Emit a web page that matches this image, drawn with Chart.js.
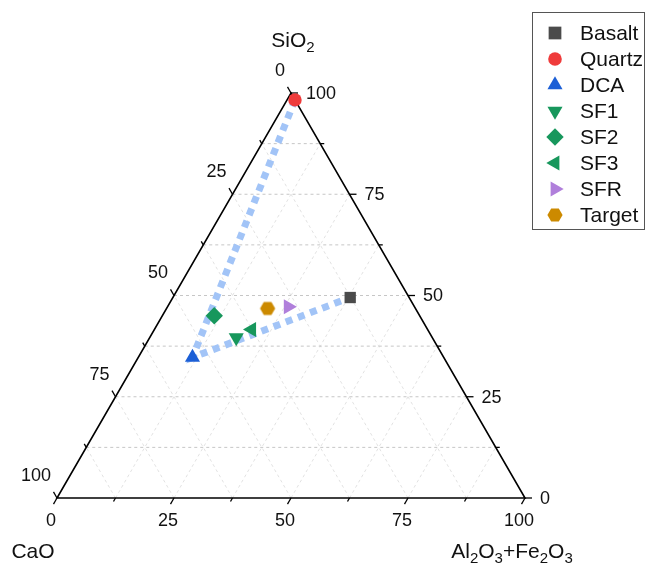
<!DOCTYPE html>
<html>
<head>
<meta charset="utf-8">
<script src="https://cdn.jsdelivr.net/npm/chart.js@4.4.0/dist/chart.umd.min.js"></script>
<style>
  html, body { margin: 0; padding: 0; background: #fff; }
  #wrap { width: 648px; height: 566px; }
</style>
</head>
<body>
<div id="wrap"><canvas id="ternary" width="648" height="566"></canvas></div>
<script>
// ═══════════ DATOS ═══════════
const muestras   = ['Basalt', 'Quartz', 'DCA', 'SF1', 'SF2', 'SF3', 'SFR', 'Target'];
const sio2       = [49.5, 98.3, 34.7, 39.6, 45.0, 41.6, 47.2, 46.8];
const al2o3fe2o3 = [37.9,  1.7, 11.6, 18.5, 11.1, 20.8, 25.8, 21.6];
const cao        = [12.6,  0.0, 53.7, 41.9, 43.9, 37.6, 27.0, 31.6];
const rutaMezcla = ['Quartz', 'DCA', 'Basalt'];
const ticksEje   = [0, 25, 50, 75, 100];
const menoresEje = [12.5, 37.5, 62.5, 87.5];
const gridPasos  = [12.5, 25, 37.5, 50, 62.5, 75, 87.5];

// ═══════════ ESTILOS ═══════════
const FONT = '"Liberation Sans", Arial, sans-serif';
const H = Math.sqrt(3) / 2;

function hexagono(r, color) {
  const c = document.createElement('canvas');
  c.width = c.height = Math.ceil(2 * r + 2);
  const g = c.getContext('2d');
  g.beginPath();
  for (let i = 0; i < 6; i++) {
    const a = i * Math.PI / 3;
    const px = c.width / 2 + r * Math.cos(a), py = c.height / 2 + r * Math.sin(a);
    i ? g.lineTo(px, py) : g.moveTo(px, py);
  }
  g.closePath();
  g.fillStyle = color;
  g.fill();
  return c;
}

const estilos = {
  Basalt: { color: '#4b4b4b', style: 'rect',     rot: 0,   r: 8,   rl: 9 },
  Quartz: { color: '#ef3b3b', style: 'circle',   rot: 0,   r: 6.7, rl: 6.8 },
  DCA:    { color: '#1c5fd6', style: 'triangle', rot: 0,   r: 8.7, rl: 8.7 },
  SF1:    { color: '#17975c', style: 'triangle', rot: 180, r: 8.7, rl: 8.7 },
  SF2:    { color: '#17975c', style: 'rectRot',  rot: 0,   r: 8.7, rl: 8.7 },
  SF3:    { color: '#17975c', style: 'triangle', rot: 270, r: 8.7, rl: 8.7 },
  SFR:    { color: '#b07fdb', style: 'triangle', rot: 90,  r: 8.7, rl: 8.7 },
  Target: { color: '#cc8a00', style: hexagono(7.6, '#cc8a00'), rot: 0, r: 7.6, rl: 7.6 }
};

// ternario -> cartesiano (0..100 en x, 0..86.6 en y)
function toXY(si, al, ca) {
  const t = si + al + ca;
  return { x: (al + si / 2) / t * 100, y: si / t * 100 * H };
}
const punto = nombre => {
  const i = muestras.indexOf(nombre);
  return toXY(sio2[i], al2o3fe2o3[i], cao[i]);
};

// ═══════════ DATASETS ═══════════
const datasets = muestras.map(n => ({
  label: n,
  data: [punto(n)],
  pointStyle: estilos[n].style,
  pointRotation: estilos[n].rot,
  pointRadius: estilos[n].r,
  backgroundColor: estilos[n].color,
  borderColor: estilos[n].color,
  borderWidth: 0,
  clip: false,
  order: 0
}));

datasets.push({
  type: 'line',
  label: 'ruta',
  data: rutaMezcla.map(punto),
  borderColor: '#a2c4f7',
  borderWidth: 7,
  borderDash: [7, 6],
  borderCapStyle: 'butt',
  pointRadius: 0,
  fill: false,
  tension: 0,
  clip: false,
  order: 10
});

// ═══════════ PLUGIN MARCO TERNARIO ═══════════
function textoQuimico(ctx, partes, cx, base, size) {
  const sub = Math.round(size * 0.7);
  let w = 0;
  partes.forEach(([t, s]) => {
    ctx.font = `${s ? sub : size}px ${FONT}`;
    w += ctx.measureText(t).width;
  });
  let x = cx - w / 2;
  ctx.textAlign = 'left';
  ctx.textBaseline = 'alphabetic';
  partes.forEach(([t, s]) => {
    ctx.font = `${s ? sub : size}px ${FONT}`;
    ctx.fillText(t, x, s ? base + 5 : base);
    x += ctx.measureText(t).width;
  });
}

const marcoTernario = {
  id: 'marcoTernario',
  beforeDatasetsDraw(chart) {
    const { ctx } = chart;
    const xs = chart.scales.x, ys = chart.scales.y;
    const P = (si, al, ca) => {
      const p = toXY(si, al, ca);
      return [xs.getPixelForValue(p.x), ys.getPixelForValue(p.y)];
    };
    const linea = (a, b) => { ctx.beginPath(); ctx.moveTo(a[0], a[1]); ctx.lineTo(b[0], b[1]); ctx.stroke(); };

    ctx.save();
    // grid
    ctx.lineWidth = 1;
    ctx.setLineDash([3, 3]);
    gridPasos.forEach(v => {
      ctx.strokeStyle = '#e2e2e2';
      linea(P(0, v, 100 - v), P(100 - v, v, 0));
      linea(P(0, 100 - v, v), P(100 - v, 0, v));
      ctx.strokeStyle = '#c6c6c6';
      linea(P(v, 0, 100 - v), P(v, 100 - v, 0));
    });
    ctx.setLineDash([]);

    // marco
    ctx.strokeStyle = '#000';
    ctx.lineWidth = 1.6;
    ctx.beginPath();
    const a = P(0, 0, 100), b = P(0, 100, 0), c = P(100, 0, 0);
    ctx.moveTo(a[0], a[1]); ctx.lineTo(b[0], b[1]); ctx.lineTo(c[0], c[1]); ctx.closePath();
    ctx.stroke();

    // ticks
    ctx.lineWidth = 1.3;
    const tick = (p, dx, dy, len) => linea(p, [p[0] + dx * len, p[1] + dy * len]);
    const todos = ticksEje.map(v => [v, 7]).concat(menoresEje.map(v => [v, 4]));
    todos.forEach(([v, len]) => {
      tick(P(0, v, 100 - v), -0.5, H, len);       // inferior
      tick(P(v, 100 - v, 0), 1, 0, len);          // derecho
      tick(P(100 - v, 0, v), -0.5, -H, len);      // izquierdo
    });

    // etiquetas
    ctx.fillStyle = '#111';
    ctx.font = `18px ${FONT}`;
    ticksEje.forEach(v => {
      let p = P(0, v, 100 - v);
      ctx.textAlign = 'center'; ctx.textBaseline = 'middle';
      ctx.fillText(String(v), p[0] - 6, p[1] + 23);
      p = P(v, 100 - v, 0);
      ctx.textAlign = 'left';
      ctx.fillText(String(v), p[0] + 15, p[1] + 1);
      p = P(100 - v, 0, v);
      ctx.textAlign = 'right';
      ctx.fillText(String(v), p[0] - 6, p[1] - 22);
    });

    // títulos de ejes
    ctx.fillStyle = '#111';
    textoQuimico(ctx, [['SiO', 0], ['2', 1]], c[0] + 2, 47, 21);
    textoQuimico(ctx, [['CaO', 0]], 33, 558, 21);
    textoQuimico(ctx, [['Al', 0], ['2', 1], ['O', 0], ['3', 1], ['+Fe', 0], ['2', 1], ['O', 0], ['3', 1]], 512, 558, 21);
    ctx.restore();
  },
  afterDraw(chart) {
    const { ctx } = chart;
    ctx.save();
    ctx.strokeStyle = '#555';
    ctx.lineWidth = 1;
    ctx.strokeRect(532.5, 12.5, 112, 217);
    ctx.font = `21px ${FONT}`;
    ctx.textAlign = 'left';
    ctx.textBaseline = 'middle';
    muestras.forEach((n, i) => {
      const y = 33 + i * 26;
      const e = estilos[n];
      ctx.fillStyle = e.color;
      ctx.strokeStyle = e.color;
      ctx.lineWidth = 0;
      Chart.helpers.drawPoint(ctx, { pointStyle: e.style, rotation: e.rot, radius: e.rl, borderWidth: 0 }, 555, y);
      ctx.fillStyle = '#111';
      ctx.fillText(n, 580, y + 1);
    });
    ctx.restore();
  }
};

// ═══════════ CHART ═══════════
new Chart(document.getElementById('ternary'), {
  type: 'scatter',
  data: { datasets },
  options: {
    responsive: false,
    animation: false,
    devicePixelRatio: 1,
    layout: { padding: { left: 57, right: 123, top: 93, bottom: 68 } },
    scales: {
      x: { type: 'linear', min: 0, max: 100, display: false },
      y: { type: 'linear', min: 0, max: 100 * H, display: false }
    },
    plugins: { legend: { display: false }, tooltip: { enabled: false } }
  },
  plugins: [marcoTernario]
});
</script>
</body>
</html>
